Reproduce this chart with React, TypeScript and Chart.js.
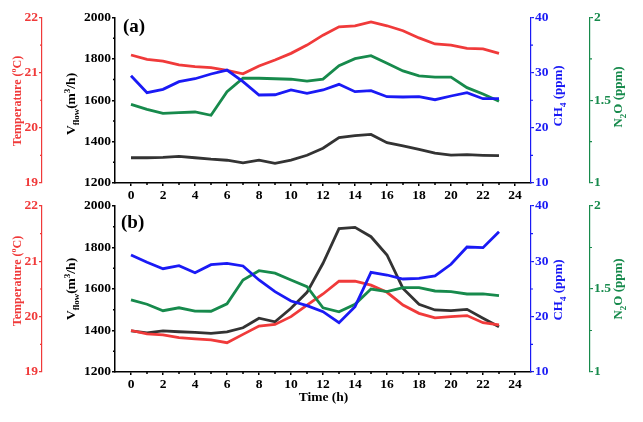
import { useEffect, useRef } from 'react';
import { Chart, registerables } from 'chart.js';

Chart.register(...registerables);

// ---- data -------------------------------------------------------------
const hours = [0, 1, 2, 3, 4, 5, 6, 7, 8, 9, 10, 11, 12, 13, 14, 15, 16, 17, 18, 19, 20, 21, 22, 23];

const xTicks = [0, 2, 4, 6, 8, 10, 12, 14, 16, 18, 20, 22, 24];
const xMinor = [1, 3, 5, 7, 9, 11, 13, 15, 17, 19, 21, 23];
const tempTicks = [19, 20, 21, 22];
const tempMinor = [19.5, 20.5, 21.5];
const flowTicks = [1200, 1400, 1600, 1800, 2000];
const flowMinor = [1300, 1500, 1700, 1900];
const ch4Ticks = [10, 20, 30, 40];
const ch4Minor = [15, 25, 35];
const n2oTicks = [1, 1.5, 2];
const n2oMinor = [1.25, 1.75];

// (a)
const tempA = [21.32, 21.24, 21.21, 21.14, 21.11, 21.09, 21.04, 20.98, 21.12, 21.23, 21.35, 21.5,
  21.68, 21.83, 21.85, 21.92, 21.85, 21.76, 21.63, 21.52, 21.5, 21.44, 21.43, 21.35];
const ch4A = [29.45, 26.37, 26.98, 28.37, 28.9, 29.76, 30.48, 28.37, 25.95, 26.0, 26.86, 26.26,
  26.86, 27.89, 26.55, 26.73, 25.64, 25.59, 25.64, 25.1, 25.77, 26.37, 25.28, 25.28];
const n2oA = [1.475, 1.445, 1.421, 1.425, 1.429, 1.409, 1.552, 1.634, 1.633, 1.63, 1.627, 1.616,
  1.628, 1.709, 1.751, 1.769, 1.723, 1.677, 1.647, 1.64, 1.64, 1.576, 1.538, 1.494];
const flowA = [1322, 1322, 1324, 1329, 1322, 1315, 1310, 1297, 1310, 1295, 1311, 1334,
  1368, 1419, 1429, 1435, 1395, 1380, 1363, 1344, 1335, 1337, 1334, 1332];

// (b)
const tempB = [19.75, 19.69, 19.67, 19.62, 19.6, 19.58, 19.53, 19.68, 19.83, 19.86, 20.0, 20.21,
  20.41, 20.64, 20.64, 20.57, 20.44, 20.21, 20.06, 19.98, 20.0, 20.02, 19.89, 19.85];
const ch4B = [31.15, 29.82, 28.67, 29.21, 27.95, 29.39, 29.64, 29.16, 26.63, 24.52, 22.83, 21.99,
  20.9, 18.91, 21.8, 28.0, 27.53, 26.81, 26.93, 27.35, 29.46, 32.59, 32.47, 35.36];
const n2oB = [1.434, 1.408, 1.369, 1.387, 1.367, 1.366, 1.411, 1.554, 1.61, 1.595, 1.554, 1.514,
  1.387, 1.363, 1.408, 1.5, 1.484, 1.508, 1.508, 1.488, 1.484, 1.47, 1.47, 1.46];
const flowB = [1398, 1389, 1398, 1394, 1391, 1386, 1393, 1413, 1459, 1442, 1507, 1584,
  1724, 1891, 1897, 1852, 1764, 1603, 1526, 1499, 1496, 1502, 1459, 1418];

// ---- styling ----------------------------------------------------------
const FONT = '"Liberation Serif", "Times New Roman", serif';
const RED = '#f03a3a';
const BLUE = '#1a1af5';
const GREEN = '#178a4c';
const BLACK = '#000000';
const LINE_BLACK = '#333333';

type Seg = { t: string; size: number; shift?: number };

function drawRich(ctx: CanvasRenderingContext2D, segs: Seg[], cx: number, cy: number, color: string, rotate: boolean) {
  ctx.save();
  ctx.translate(cx, cy);
  if (rotate) ctx.rotate(-Math.PI / 2);
  ctx.fillStyle = color;
  ctx.textAlign = 'left';
  ctx.textBaseline = 'alphabetic';
  let total = 0;
  const widths = segs.map((s) => {
    ctx.font = `bold ${s.size}px ${FONT}`;
    const w = ctx.measureText(s.t).width;
    total += w;
    return w;
  });
  let x = -total / 2;
  const base = segs[0].size * 0.33;
  segs.forEach((s, i) => {
    ctx.font = `bold ${s.size}px ${FONT}`;
    ctx.fillText(s.t, x, base + (s.shift || 0));
    x += widths[i];
  });
  ctx.restore();
}

const tempTitle: Seg[] = [{ t: 'Temperature (', size: 12 }, { t: 'o', size: 8, shift: -5 }, { t: 'C)', size: 12 }];
const flowTitle: Seg[] = [
  { t: 'V', size: 13.5 }, { t: 'flow', size: 9, shift: 3.5 }, { t: '(m', size: 13.5 },
  { t: '3', size: 9, shift: -5.5 }, { t: '/h)', size: 13.5 },
];
const ch4Title: Seg[] = [{ t: 'CH', size: 13 }, { t: '4', size: 9, shift: 3.5 }, { t: ' (ppm)', size: 13 }];
const n2oTitle: Seg[] = [{ t: 'N', size: 13 }, { t: '2', size: 9, shift: 3.5 }, { t: 'O (ppm)', size: 13 }];

type Panel = {
  label: string;
  temp: number[];
  ch4: number[];
  n2o: number[];
  flow: number[];
  padTop: number;
  padBottom: number;
  xHeight: number;
  labelPos: [number, number];
  titleY: { temp: number; flow: number; ch4: number; n2o: number };
  showTime: boolean;
};

const panels: Panel[] = [
  {
    label: '(a)', temp: tempA, ch4: ch4A, n2o: n2oA, flow: flowA,
    padTop: 17.5, padBottom: 222, xHeight: 17, labelPos: [123, 27],
    titleY: { temp: 101, flow: 104, ch4: 96, n2o: 97 }, showTime: false,
  },
  {
    label: '(b)', temp: tempB, ch4: ch4B, n2o: n2oB, flow: flowB,
    padTop: 206, padBottom: 0, xHeight: 50, labelPos: [121, 223],
    titleY: { temp: 281, flow: 289, ch4: 290, n2o: 289 }, showTime: true,
  },
];

const tickFont = { family: FONT, size: 13.5, weight: 'bold' as const };

function yScale(pos: 'left' | 'right', weight: number, min: number, max: number, ticks: number[], width: number, color: string, lw: number, fmt?: (v: number) => string) {
  return {
    type: 'linear' as const,
    position: pos,
    weight,
    min,
    max,
    afterBuildTicks: (s: any) => { s.ticks = ticks.map((v) => ({ value: v })); },
    afterFit: (s: any) => { s.width = width; },
    grid: { display: true, drawOnChartArea: false, drawTicks: true, tickLength: 3, tickColor: color, lineWidth: lw, color },
    border: { display: true, color, width: lw },
    ticks: {
      color, font: tickFont, padding: 1,
      callback: (v: any) => (fmt ? fmt(Number(v)) : String(v)),
    },
  };
}

function minorPlugin(panel: Panel) {
  return {
    id: 'decor' + panel.label,
    afterDraw(chart: any) {
      const ctx: CanvasRenderingContext2D = chart.ctx;
      const sc = chart.scales;
      const mark = (scale: any, vals: number[], side: 'left' | 'right' | 'bottom', color: string, lw: number) => {
        ctx.save();
        ctx.strokeStyle = color;
        ctx.lineWidth = lw;
        ctx.beginPath();
        vals.forEach((v) => {
          const p = scale.getPixelForValue(v);
          if (side === 'left') { ctx.moveTo(scale.right, p); ctx.lineTo(scale.right - 2, p); }
          else if (side === 'right') { ctx.moveTo(scale.left, p); ctx.lineTo(scale.left + 2, p); }
          else { ctx.moveTo(p, scale.top); ctx.lineTo(p, scale.top + 2); }
        });
        ctx.stroke();
        ctx.restore();
      };
      mark(sc.temp, tempMinor, 'left', RED, 1.2);
      mark(sc.flow, flowMinor, 'left', BLACK, 1.5);
      mark(sc.ch4, ch4Minor, 'right', BLUE, 1.2);
      mark(sc.n2o, n2oMinor, 'right', GREEN, 1.2);
      mark(sc.x, xMinor, 'bottom', BLACK, 1.5);

      drawRich(ctx, tempTitle, 17, panel.titleY.temp, RED, true);
      drawRich(ctx, flowTitle, 71, panel.titleY.flow, BLACK, true);
      drawRich(ctx, ch4Title, 558, panel.titleY.ch4, BLUE, true);
      drawRich(ctx, n2oTitle, 618, panel.titleY.n2o, GREEN, true);

      ctx.save();
      ctx.fillStyle = BLACK;
      ctx.font = `bold 19px ${FONT}`;
      ctx.textAlign = 'left';
      ctx.textBaseline = 'middle';
      ctx.fillText(panel.label, panel.labelPos[0], panel.labelPos[1]);
      if (panel.showTime) {
        ctx.font = `bold 13.5px ${FONT}`;
        ctx.textAlign = 'center';
        ctx.fillText('Time (h)', 323.5, 398);
      }
      ctx.restore();
    },
  };
}

function series(vals: number[]) {
  return hours.map((h, i) => ({ x: h, y: vals[i] }));
}

function buildConfig(panel: Panel): any {
  const line = (data: number[], color: string, axis: string, order: number) => ({
    data: series(data),
    yAxisID: axis,
    xAxisID: 'x',
    borderColor: color,
    backgroundColor: color,
    borderWidth: 2.8,
    pointRadius: 0,
    tension: 0,
    fill: false,
    order,
  });
  return {
    type: 'line',
    data: {
      datasets: [
        line(panel.flow, LINE_BLACK, 'flow', 4),
        line(panel.temp, RED, 'temp', 3),
        line(panel.n2o, GREEN, 'n2o', 2),
        line(panel.ch4, BLUE, 'ch4', 1),
      ],
    },
    options: {
      responsive: false,
      animation: false,
      events: [],
      layout: { padding: { top: panel.padTop, bottom: panel.padBottom, left: 0, right: 0 } },
      plugins: { legend: { display: false }, tooltip: { enabled: false } },
      scales: {
        x: {
          type: 'linear',
          position: 'bottom',
          min: -1,
          max: 25,
          afterBuildTicks: (s: any) => { s.ticks = xTicks.map((v) => ({ value: v })); },
          afterFit: (s: any) => { s.height = panel.xHeight; },
          grid: { display: true, drawOnChartArea: false, drawTicks: true, tickLength: 3, tickColor: BLACK, lineWidth: 1.5, color: BLACK },
          border: { display: true, color: BLACK, width: 1.5 },
          ticks: { color: BLACK, font: tickFont, padding: 1, maxRotation: 0, autoSkip: false },
        },
        temp: yScale('left', 2, 19, 22, tempTicks, 42, RED, 1.2),
        flow: yScale('left', 1, 1200, 2000, flowTicks, 73, BLACK, 1.5),
        ch4: yScale('right', 1, 10, 40, ch4Ticks, 59, BLUE, 1.2),
        n2o: yScale('right', 2, 1, 2, n2oTicks, 53, GREEN, 1.2, (v) => String(v)),
      },
    },
    plugins: [minorPlugin(panel)],
  };
}

function PanelChart({ panel }: { panel: Panel }) {
  const ref = useRef<HTMLCanvasElement | null>(null);
  useEffect(() => {
    if (!ref.current) return;
    const chart = new Chart(ref.current, buildConfig(panel));
    return () => chart.destroy();
  }, [panel]);
  return (
    <canvas
      ref={ref}
      width={643}
      height={422}
      style={{ position: 'absolute', left: 0, top: 0, width: 643, height: 422 }}
    />
  );
}

export default function App() {
  return (
    <div style={{ position: 'absolute', left: 0, top: 0, width: 643, height: 422, background: '#ffffff' }}>
      {panels.map((p) => (
        <PanelChart key={p.label} panel={p} />
      ))}
    </div>
  );
}
